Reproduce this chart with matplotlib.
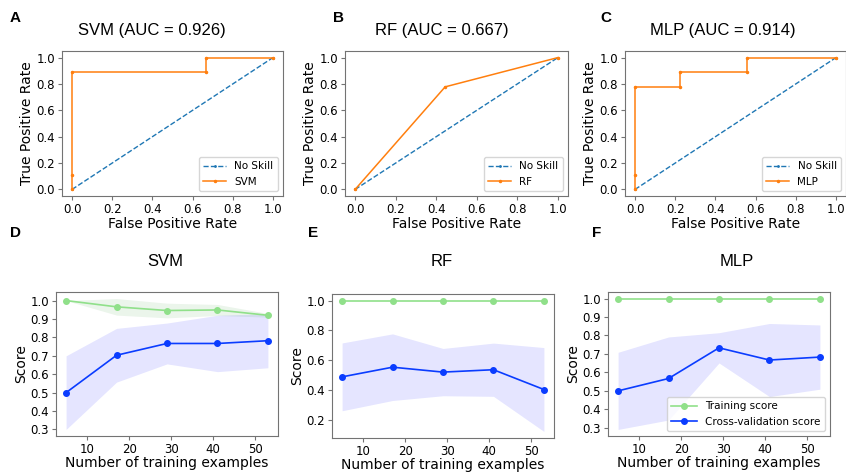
import numpy as np
import matplotlib
matplotlib.use("Agg")
import matplotlib.pyplot as plt

# ROC points
models = ["SVM", "RF", "MLP"]
auc = [0.926, 0.667, 0.914]
svm_fpr = [0.0, 0.0, 0.0, 0.667, 0.667, 1.0]
svm_tpr = [0.0, 0.111, 0.889, 0.889, 1.0, 1.0]
rf_fpr = [0.0, 0.444, 1.0]
rf_tpr = [0.0, 0.778, 1.0]
mlp_fpr = [0.0, 0.0, 0.0, 0.222, 0.222, 0.556, 0.556, 1.0]
mlp_tpr = [0.0, 0.111, 0.778, 0.778, 0.889, 0.889, 1.0, 1.0]
ns_fpr = [0.0, 1.0]
ns_tpr = [0.0, 1.0]

# learning curves
train_sizes = [5, 17, 29, 41, 53]
svm_train = [1.0, 0.966, 0.946, 0.949, 0.920]
svm_train_std = [0.0, 0.045, 0.040, 0.030, 0.010]
svm_cv = [0.500, 0.703, 0.767, 0.767, 0.782]
svm_cv_std = [0.200, 0.146, 0.111, 0.153, 0.147]
rf_train = [1.0, 1.0, 1.0, 1.0, 1.0]
rf_train_std = [0.0, 0.0, 0.0, 0.0, 0.0]
rf_cv = [0.487, 0.552, 0.519, 0.535, 0.402]
rf_cv_std = [0.228, 0.224, 0.159, 0.179, 0.282]
mlp_train = [1.0, 1.0, 1.0, 1.0, 1.0]
mlp_train_std = [0.0, 0.0, 0.0, 0.0, 0.0]
mlp_cv = [0.500, 0.567, 0.733, 0.667, 0.683]
mlp_cv_std = [0.209, 0.225, 0.082, 0.198, 0.174]

W, H = 846, 472
fig = plt.figure(figsize=(W / 100, H / 100), dpi=100)


def rect(x0, y0, x1, y1):
    # pixel box (top-left origin) -> figure fractions
    return [x0 / W, 1 - y1 / H, (x1 - x0) / W, (y1 - y0) / H]


TITLE_FONT = "Liberation Sans"
FRAME = "0.45"


def style(ax):
    for s in ax.spines.values():
        s.set_color(FRAME)
    ax.tick_params(labelsize=8.5, color=FRAME, length=3, pad=2)


# ---- top row: ROC ----
roc = [(svm_fpr, svm_tpr), (rf_fpr, rf_tpr), (mlp_fpr, mlp_tpr)]
top_boxes = [(62, 51, 283, 196), (345, 51, 568, 196), (625, 51, 846, 196)]
top_title_x = [152, 442, 723]
top_letters = [("A", 10), ("B", 333), ("C", 600)]

for i, name in enumerate(models):
    ax = fig.add_axes(rect(*top_boxes[i]))
    ax.plot(ns_fpr, ns_tpr, linestyle="--", marker=".", markersize=2,
            lw=1.0, color="#1f77b4", label="No Skill")
    ax.plot(roc[i][0], roc[i][1], marker=".", markersize=3, lw=1.1,
            color="#ff7f0e", label=name)
    ax.set_xlabel("False Positive Rate", fontsize=10, labelpad=1)
    ax.set_ylabel("True Positive Rate", fontsize=10, labelpad=2)
    ax.set_xticks(np.arange(0, 1.01, 0.2))
    ax.set_yticks(np.arange(0, 1.01, 0.2))
    ax.legend(loc="lower right", fontsize=7.5, handlelength=2.2)
    style(ax)
    fig.text(top_title_x[i] / W, 1 - 31 / H, f"{name} (AUC = {auc[i]})",
             ha="center", va="center", fontsize=12, family=TITLE_FONT)
    lt, lx = top_letters[i]
    fig.text(lx / W, 1 - 18 / H, lt, ha="left", va="center", fontsize=11,
             fontweight="bold", family=TITLE_FONT)

# ---- bottom row: learning curves ----
curves = [
    (svm_train, svm_train_std, svm_cv, svm_cv_std),
    (rf_train, rf_train_std, rf_cv, rf_cv_std),
    (mlp_train, mlp_train_std, mlp_cv, mlp_cv_std),
]
bot_boxes = [(56, 292, 278, 436), (332, 294, 554, 438), (608, 292, 830, 436)]
bot_title_x = [165, 442, 737]
bot_letters = [("D", 10), ("E", 308), ("F", 592)]
x = np.array(train_sizes)

for i, name in enumerate(models):
    tr, trs, cv, cvs = [np.array(a) for a in curves[i]]
    ax = fig.add_axes(rect(*bot_boxes[i]))
    ax.fill_between(x, tr - trs, tr + trs, color="g", alpha=0.08, lw=0)
    ax.fill_between(x, cv - cvs, cv + cvs, color="b", alpha=0.1, lw=0)
    ax.plot(x, tr, "o-", color="#90e08a", markersize=4, lw=1.2,
            label="Training score")
    ax.plot(x, cv, "o-", color="#0a3cff", markersize=4, lw=1.2,
            label="Cross-validation score")
    ax.set_xlabel("Number of training examples", fontsize=10, labelpad=0)
    ax.set_ylabel("Score", fontsize=10, labelpad=2)
    ax.set_xticks([10, 20, 30, 40, 50])
    if i != 1:
        ax.set_yticks(np.arange(0.3, 1.01, 0.1))
    if i == 2:
        ax.legend(loc="lower right", fontsize=7.5, handlelength=2.5)
    style(ax)
    fig.text(bot_title_x[i] / W, 1 - 262 / H, name, ha="center", va="center",
             fontsize=12, family=TITLE_FONT)
    lt, lx = bot_letters[i]
    fig.text(lx / W, 1 - 233 / H, lt, ha="left", va="center", fontsize=11,
             fontweight="bold", family=TITLE_FONT)

fig.savefig("out.png", dpi=100)
